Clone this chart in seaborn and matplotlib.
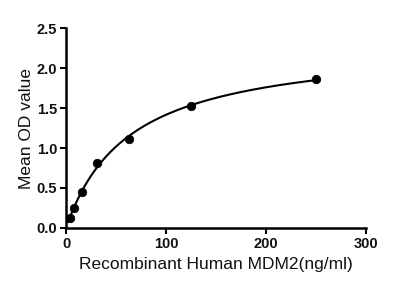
import numpy as np
import matplotlib
matplotlib.use("Agg")
import matplotlib.pyplot as plt
import seaborn as sns
import pandas as pd

conc = [3.9, 7.8, 15.6, 31.25, 62.5, 125, 250]
od = [0.13, 0.25, 0.45, 0.81, 1.11, 1.53, 1.86]
xticks = [0, 100, 200, 300]
yticks = [0.0, 0.5, 1.0, 1.5, 2.0, 2.5]

sns.set_style("ticks")
plt.rcParams['font.family'] = ['Liberation Sans', 'DejaVu Sans']

df = pd.DataFrame({"conc": conc, "od": od})

# fit y = a + b*x/(c+x)
x = np.array(conc); y = np.array(od)
best = None
for c in np.linspace(5, 400, 2000):
    A = np.vstack([np.ones_like(x), x / (c + x)]).T
    coef, res, *_ = np.linalg.lstsq(A, y, rcond=None)
    r = np.sum((A @ coef - y) ** 2)
    if best is None or r < best[0]:
        best = (r, c, coef)
_, c, (a, b) = best
xs = np.linspace(2, 250, 300)
fit = pd.DataFrame({"conc": xs, "od": a + b * xs / (c + xs)})

fig = plt.figure(figsize=(4.13, 2.90), dpi=100)
ax = fig.add_axes([0.160, 0.214, 0.726, 0.689])
sns.lineplot(data=fit, x="conc", y="od", ax=ax, color="black", linewidth=1.5)
sns.scatterplot(data=df, x="conc", y="od", ax=ax, color="black", s=38, edgecolor="black", zorder=3)

ax.set_xlim(0, 300)
ax.set_ylim(0, 2.5)
ax.set_xticks(xticks)
ax.set_yticks(yticks)
ax.set_xticklabels([str(t) for t in xticks], fontweight="bold", fontsize=10.5)
ax.set_yticklabels([f"{t:.1f}" for t in yticks], fontweight="bold", fontsize=10.5)
ax.set_xlabel("Recombinant Human MDM2(ng/ml)", fontsize=12.5, labelpad=4, color="#111111")
ax.set_ylabel("Mean OD value", fontsize=12.5, labelpad=2, color="#111111")
for s in ["left", "bottom"]:
    ax.spines[s].set_linewidth(1.8)
    ax.spines[s].set_color("black")
sns.despine(ax=ax)
ax.tick_params(width=1.5, length=4, pad=2.5, color="black", labelcolor="#111111")
fig.savefig("out.png", dpi=100)
